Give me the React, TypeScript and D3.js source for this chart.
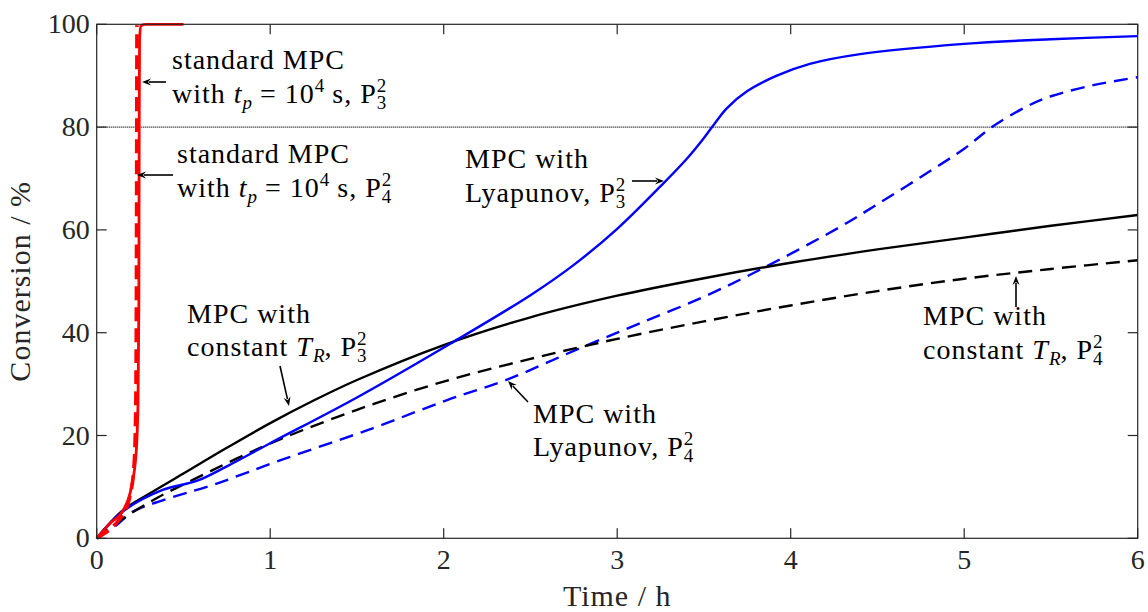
import React from "react";
import * as d3 from "d3";

// Conversion (%) over time (h) for the different controller set-ups
const constTrP3: [number, number][] = [
  [0, 0], [0.15, 5.4], [0.3, 8.6], [0.5, 12.6], [0.75, 17.6], [1, 22.4], [1.25, 26.8],
  [1.5, 30.8], [2, 37.6], [2.5, 43], [3, 47.2], [3.5, 50.6], [4, 53.6], [4.5, 56.2],
  [5, 58.5], [5.5, 60.8], [6, 62.9],
];
const constTrP4: [number, number][] = [
  [0, 0], [0.15, 3.8], [0.35, 7.9], [0.58, 11.8], [0.8, 15.4], [1.06, 19.3], [1.5, 25],
  [2, 30.5], [2.5, 34.9], [3, 38.8], [3.5, 42.2], [4, 45.3], [4.5, 48.1], [5, 50.5],
  [5.5, 52.4], [6, 54.1],
];
const lyapP3: [number, number][] = [
  [0, 0], [0.15, 5.2], [0.38, 9.4], [0.58, 11.2], [0.75, 14], [1, 18.5], [1.5, 27.4],
  [2.04, 37.9], [2.5, 47.3], [2.75, 53.2], [3, 60.2], [3.25, 68.5], [3.4, 73.8],
  [3.5, 77.9], [3.56, 80.6], [3.63, 83.6], [3.75, 87], [3.92, 90], [4.11, 92.3],
  [4.4, 94.2], [5, 96.2], [5.5, 97.1], [6, 97.7],
];
const lyapP4: [number, number][] = [
  [0, 0], [0.115, 2.6], [0.21, 5.2], [0.38, 7.4], [0.67, 10.4], [1.06, 15.2], [1.59, 21.4],
  [2.02, 26.9], [2.36, 30.8], [2.8, 37.2], [3.13, 41.8], [3.5, 47], [3.82, 52.2],
  [4.28, 60.5], [4.5, 65], [4.75, 70.3], [5, 75.8], [5.16, 80], [5.36, 84], [5.5, 86],
  [5.75, 88.2], [6, 89.7],
];
const stdP3: [number, number][] = [
  [0, 0], [0.077, 2.9], [0.153, 5.5], [0.2, 10], [0.227, 16.5], [0.238, 26], [0.243, 45],
  [0.245, 80], [0.247, 97], [0.255, 99.7], [0.28, 100], [0.5, 100],
];
const stdP4: [number, number][] = [
  [0, 0], [0.1, 2.5], [0.15, 4.6], [0.19, 8], [0.215, 14], [0.225, 25], [0.229, 50],
  [0.232, 99.8],
];

const xTicks = [0, 1, 2, 3, 4, 5, 6];
const yTicks = [0, 20, 40, 60, 80, 100];
const threshold = 80;

const W = 1148;
const H = 612;
const x = d3.scaleLinear().domain([0, 6]).range([96.7, 1137.7]);
const y = d3.scaleLinear().domain([0, 100]).range([538.3, 24.3]);

const smooth = d3
  .line<[number, number]>()
  .x((d) => x(d[0]))
  .y((d) => y(d[1]))
  .curve(d3.curveCatmullRom.alpha(0.5));

const steep = d3
  .line<[number, number]>()
  .x((d) => x(d[0]))
  .y((d) => y(d[1]))
  .curve(d3.curveMonotoneX);

const FONT = "'Liberation Serif', 'Times New Roman', serif";
const FS = 28;
const SS = 19;
const AX = "#262626";

type Part = [string, "r" | "i" | "subi" | "sup" | "stack"];

// One line of text with simple math: italics, subscripts, superscripts, stacked indices
function MathLine({ x0, y0, parts }: { x0: number; y0: number; parts: Part[] }) {
  let cur = 0;
  const spans: React.ReactNode[] = [];
  parts.forEach(([txt, kind], i) => {
    if (kind === "stack") {
      const [sup, sub] = txt.split("|");
      spans.push(
        <tspan key={i + "a"} dy={-11 - cur} fontSize={SS} letterSpacing={0}>
          {sup}
        </tspan>
      );
      spans.push(
        <tspan key={i + "b"} dx={-SS * 0.5} dy={17} fontSize={SS} letterSpacing={0}>
          {sub}
        </tspan>
      );
      cur = 6;
      return;
    }
    let target = 0;
    let size = FS;
    let italic = false;
    if (kind === "i") italic = true;
    if (kind === "subi") {
      target = 6;
      size = SS;
      italic = true;
    }
    if (kind === "sup") {
      target = -11;
      size = SS;
    }
    spans.push(
      <tspan
        key={i}
        dy={target - cur}
        fontSize={size}
        fontStyle={italic ? "italic" : "normal"}
        letterSpacing={size === FS ? 1 : 0}
      >
        {txt}
      </tspan>
    );
    cur = target;
  });
  return (
    <text x={x0} y={y0} fontFamily={FONT} fontSize={FS} fill="#000" style={{ whiteSpace: "pre" }}>
      {spans}
    </text>
  );
}

function Arrow({ x1, y1, x2, y2 }: { x1: number; y1: number; x2: number; y2: number }) {
  const a = Math.atan2(y2 - y1, x2 - x1);
  const L = 9;
  const w = 3.5;
  const bx = x2 - L * Math.cos(a);
  const by = y2 - L * Math.sin(a);
  const px = -Math.sin(a) * w;
  const py = Math.cos(a) * w;
  return (
    <g>
      <line x1={x1} y1={y1} x2={bx + 2 * Math.cos(a)} y2={by + 2 * Math.sin(a)} stroke="#000" strokeWidth={1.6} />
      <path
        d={`M${x2},${y2} L${bx + px},${by + py} L${bx + 3 * Math.cos(a)},${by + 3 * Math.sin(a)} L${bx - px},${by - py} Z`}
        fill="#000"
      />
    </g>
  );
}

export default function App() {
  const [x0, x1] = x.range();
  const [yb, yt] = y.range();
  return (
    <svg
      width={W}
      height={H}
      style={{ position: "absolute", left: 0, top: 0, background: "#fff" }}
      fontFamily={FONT}
    >
      <rect width={W} height={H} fill="#fff" />

      {/* threshold line */}
      <line
        x1={x0}
        x2={x1}
        y1={y(threshold)}
        y2={y(threshold)}
        stroke="#000"
        strokeWidth={1.2}
        strokeDasharray="1 1"
      />

      {/* series */}
      <path d={smooth(lyapP4) ?? ""} fill="none" stroke="#0000ff" strokeWidth={2.4} strokeDasharray="14 8" />
      <path d={smooth(constTrP4) ?? ""} fill="none" stroke="#000" strokeWidth={2.4} strokeDasharray="14 8" />
      <path d={smooth(constTrP3) ?? ""} fill="none" stroke="#000" strokeWidth={2.4} />
      <path d={smooth(lyapP3) ?? ""} fill="none" stroke="#0000ff" strokeWidth={2.4} />
      <path d={steep(stdP4) ?? ""} fill="none" stroke="#ff0000" strokeWidth={3.6} strokeDasharray="14 7" />
      <path d={steep(stdP3) ?? ""} fill="none" stroke="#ff0000" strokeWidth={2.8} />

      {/* axes box */}
      <rect x={x0} y={yt} width={x1 - x0} height={yb - yt} fill="none" stroke={AX} strokeWidth={1.2} />
      {xTicks.map((t) => (
        <g key={"x" + t}>
          <line x1={x(t)} x2={x(t)} y1={yb} y2={yb - 10} stroke={AX} strokeWidth={1.2} />
          <line x1={x(t)} x2={x(t)} y1={yt} y2={yt + 10} stroke={AX} strokeWidth={1.2} />
          <text x={x(t)} y={yb + 31} textAnchor="middle" fontSize={FS} fill={AX}>
            {t}
          </text>
        </g>
      ))}
      {yTicks.map((t) => (
        <g key={"y" + t}>
          <line x1={x0} x2={x0 + 10} y1={y(t)} y2={y(t)} stroke={AX} strokeWidth={1.2} />
          <line x1={x1} x2={x1 - 10} y1={y(t)} y2={y(t)} stroke={AX} strokeWidth={1.2} />
          <text x={x0 - 7} y={y(t) + 9} textAnchor="end" fontSize={FS} fill={AX}>
            {t}
          </text>
        </g>
      ))}

      {/* axis labels */}
      <text x={(x0 + x1) / 2} y={606} textAnchor="middle" fontSize={30} letterSpacing={1} fill={AX}>
        Time / h
      </text>
      <text
        transform={`translate(30, ${(yb + yt) / 2}) rotate(-90)`}
        textAnchor="middle"
        fontSize={30}
        letterSpacing={1}
        fill={AX}
      >
        Conversion / %
      </text>

      {/* annotations */}
      <MathLine x0={172} y0={69} parts={[["standard MPC", "r"]]} />
      <MathLine
        x0={172}
        y0={103}
        parts={[["with ", "r"], ["t", "i"], ["p", "subi"], [" = 10", "r"], ["4", "sup"], [" s, P", "r"], ["2|3", "stack"]]}
      />
      <Arrow x1={166} y1={82} x2={142} y2={82} />

      <MathLine x0={177} y0={163} parts={[["standard MPC", "r"]]} />
      <MathLine
        x0={177}
        y0={197}
        parts={[["with ", "r"], ["t", "i"], ["p", "subi"], [" = 10", "r"], ["4", "sup"], [" s, P", "r"], ["2|4", "stack"]]}
      />
      <Arrow x1={173} y1={175} x2={137} y2={175} />

      <MathLine x0={465} y0={168} parts={[["MPC with", "r"]]} />
      <MathLine x0={465} y0={202} parts={[["Lyapunov, P", "r"], ["2|3", "stack"]]} />
      <Arrow x1={632} y1={181} x2={664} y2={181} />

      <MathLine x0={187} y0={323} parts={[["MPC with", "r"]]} />
      <MathLine x0={187} y0={356} parts={[["constant ", "r"], ["T", "i"], ["R", "subi"], [", P", "r"], ["2|3", "stack"]]} />
      <Arrow x1={280} y1={366} x2={289} y2={406} />

      <MathLine x0={533} y0={423} parts={[["MPC with", "r"]]} />
      <MathLine x0={533} y0={456} parts={[["Lyapunov, P", "r"], ["2|4", "stack"]]} />
      <Arrow x1={528} y1={402} x2={508} y2={381} />

      <MathLine x0={923} y0={325} parts={[["MPC with", "r"]]} />
      <MathLine x0={923} y0={359} parts={[["constant ", "r"], ["T", "i"], ["R", "subi"], [", P", "r"], ["2|4", "stack"]]} />
      <Arrow x1={1016} y1={307} x2={1016} y2={276} />
    </svg>
  );
}
